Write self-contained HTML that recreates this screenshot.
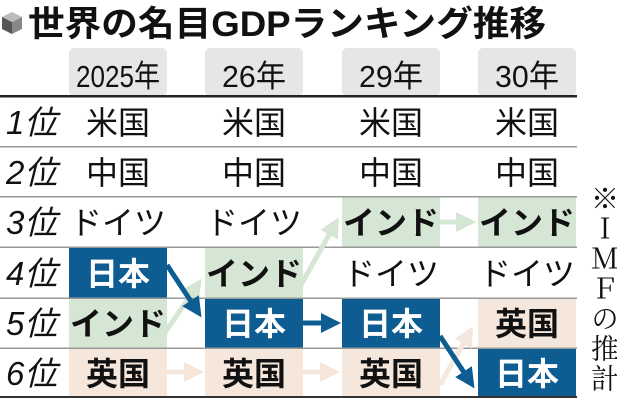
<!DOCTYPE html>
<html><head><meta charset="utf-8"><style>
html,body{margin:0;padding:0;background:#fff;width:617px;height:400px;overflow:hidden}
svg{display:block}
text{font-family:"Liberation Sans","Noto Sans CJK JP",sans-serif}
</style></head><body>
<svg width="617" height="400" viewBox="0 0 617 400" xmlns="http://www.w3.org/2000/svg">
<polygon points="12,12 22,17 12,22 2,17" fill="#bbb"/>
<polygon points="2,17 12,22 12,34 2,29" fill="#555"/>
<polygon points="22,17 12,22 12,34 22,29" fill="#888"/>
<text x="28" y="36" font-size="35" font-weight="bold" fill="#111" textLength="518" lengthAdjust="spacingAndGlyphs">世界の名目GDPランキング推移</text>
<g fill="#e6e6e6">
<rect x="69" y="48" width="98" height="48" rx="5"/>
<rect x="205" y="48" width="98" height="48" rx="5"/>
<rect x="342" y="48" width="98" height="48" rx="5"/>
<rect x="478" y="48" width="98" height="48" rx="5"/>
</g>
<g font-size="31" fill="#111" text-anchor="middle">
<text x="118" y="87" textLength="84" lengthAdjust="spacingAndGlyphs">2025年</text>
<text x="254" y="87" textLength="64" lengthAdjust="spacingAndGlyphs">26年</text>
<text x="391" y="87" textLength="64" lengthAdjust="spacingAndGlyphs">29年</text>
<text x="527" y="87" textLength="64" lengthAdjust="spacingAndGlyphs">30年</text>
</g>
<g fill="#d6e6d4">
<rect x="342" y="197" width="98" height="50"/>
<rect x="478" y="197" width="98" height="50"/>
<rect x="205" y="247" width="98" height="51"/>
<rect x="69" y="298" width="98" height="50"/>
</g>
<g fill="#f6e7dd">
<rect x="69" y="348" width="98" height="49"/>
<rect x="205" y="348" width="98" height="49"/>
<rect x="342" y="348" width="98" height="49"/>
<rect x="478" y="298" width="98" height="50"/>
</g>
<g fill="#0e5d92">
<rect x="69" y="247" width="98" height="51"/>
<rect x="205" y="298" width="98" height="50"/>
<rect x="342" y="298" width="98" height="50"/>
<rect x="478" y="348" width="98" height="49"/>
</g>
<rect x="0" y="95" width="577" height="2.5" fill="#222"/>
<g fill="#999">
<rect x="0" y="146" width="577" height="1.5"/>
<rect x="0" y="196" width="577" height="1.5"/>
<rect x="0" y="246.5" width="577" height="1.5"/>
<rect x="0" y="297.5" width="577" height="1.5"/>
<rect x="0" y="347.5" width="577" height="1.5"/>
</g>
<rect x="0" y="396" width="577" height="2" fill="#333"/>
<defs>
<marker id="ab" markerWidth="4" markerHeight="4" refX="2" refY="2" orient="auto" markerUnits="strokeWidth"><path d="M0,0 L4,2 L0,4z" fill="#0e5d92"/></marker>
<marker id="ag" markerWidth="4" markerHeight="4" refX="2" refY="2" orient="auto" markerUnits="strokeWidth"><path d="M0,0 L4,2 L0,4z" fill="#d6e6d4"/></marker>
<marker id="ap" markerWidth="4" markerHeight="4" refX="2" refY="2" orient="auto" markerUnits="strokeWidth"><path d="M0,0 L4,2 L0,4z" fill="#f6e7dd"/></marker>
</defs>
<g stroke-width="5" fill="none">
<line x1="160" y1="340" x2="196" y2="287" stroke="#d6e6d4" marker-end="url(#ag)"/>
<line x1="298" y1="290" x2="334" y2="226" stroke="#d6e6d4" marker-end="url(#ag)"/>
<line x1="440" y1="222" x2="466" y2="222" stroke="#d6e6d4" marker-end="url(#ag)"/>
<line x1="167" y1="372" x2="194" y2="372" stroke="#f6e7dd" marker-end="url(#ap)"/>
<line x1="303" y1="372" x2="330" y2="372" stroke="#f6e7dd" marker-end="url(#ap)"/>
<line x1="440" y1="385" x2="468" y2="335" stroke="#f6e7dd" marker-end="url(#ap)"/>
<line x1="167" y1="265" x2="196" y2="309" stroke="#0e5d92" marker-end="url(#ab)"/>
<line x1="303" y1="323" x2="331" y2="323" stroke="#0e5d92" marker-end="url(#ab)"/>
<line x1="440" y1="336" x2="469" y2="380" stroke="#0e5d92" marker-end="url(#ab)"/>
</g>
<g font-size="33" fill="#111" font-style="italic">
<text x="6" y="134">1位</text>
<text x="6" y="184">2位</text>
<text x="6" y="234">3位</text>
<text x="6" y="285">4位</text>
<text x="6" y="335">5位</text>
<text x="6" y="385">6位</text>
</g>
<g font-size="32" fill="#111" text-anchor="middle">
<text x="118" y="134">米国</text><text x="254" y="134">米国</text><text x="391" y="134">米国</text><text x="527" y="134">米国</text>
<text x="118" y="184">中国</text><text x="254" y="184">中国</text><text x="391" y="184">中国</text><text x="527" y="184">中国</text>
<text x="118" y="234">ドイツ</text><text x="254" y="234">ドイツ</text>
<text x="391" y="285">ドイツ</text><text x="527" y="285">ドイツ</text>
</g>
<g font-size="32" font-weight="bold" fill="#111" text-anchor="middle">
<text x="391" y="234">インド</text><text x="527" y="234">インド</text>
<text x="254" y="285">インド</text><text x="118" y="335">インド</text>
<text x="527" y="335">英国</text>
<text x="118" y="385">英国</text><text x="254" y="385">英国</text><text x="391" y="385">英国</text>
</g>
<g font-size="32" font-weight="bold" fill="#fff" text-anchor="middle">
<text x="118" y="285">日本</text><text x="254" y="335">日本</text><text x="391" y="335">日本</text><text x="527" y="385">日本</text>
</g>
</svg>
<div style="position:absolute;left:587px;top:184px;writing-mode:vertical-rl;font-family:'Liberation Serif','Noto Serif CJK SC',serif;font-size:28px;line-height:30px;color:#111;letter-spacing:2px">※ＩＭＦの推計</div>
</body></html>
